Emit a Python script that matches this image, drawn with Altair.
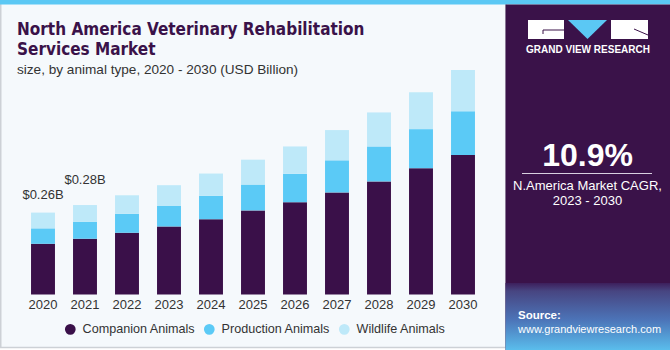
import altair as alt
import pandas as pd

years = ["2020", "2021", "2022", "2023", "2024", "2025", "2026", "2027", "2028", "2029", "2030"]
companion = [0.161, 0.177, 0.196, 0.216, 0.239, 0.267, 0.293, 0.324, 0.359, 0.401, 0.443]
production = [0.049, 0.054, 0.060, 0.065, 0.074, 0.082, 0.090, 0.102, 0.111, 0.124, 0.139]
wildlife = [0.050, 0.053, 0.059, 0.066, 0.071, 0.079, 0.087, 0.096, 0.108, 0.117, 0.131]
series = ["Companion Animals", "Production Animals", "Wildlife Animals"]
colors = ["#3A1049", "#5BCAF6", "#BEE9F9"]
label_years = ["2020", "2021"]
label_texts = ["$0.26B", "$0.28B"]

title_lines = ["North America Veterinary Rehabilitation", "Services Market"]
subtitle = "size, by animal type, 2020 - 2030 (USD Billion)"
cagr = "10.9%"
cagr_lines = ["N.America Market CAGR,", "2023 - 2030"]
brand = "GRAND VIEW RESEARCH"
source_lines = ["Source:", "www.grandviewresearch.com"]

rows = []
for i, y in enumerate(years):
    for k, (s, vals) in enumerate(zip(series, [companion, production, wildlife])):
        rows.append({"year": y, "series": s, "value": vals[i], "order": k})
df = pd.DataFrame(rows)

totals = {y: companion[i] + production[i] + wildlife[i] for i, y in enumerate(years)}
lab_df = pd.DataFrame({"year": label_years, "text": label_texts,
                       "total": [totals[y] for y in label_years]})
year_df = pd.DataFrame({"year": years})
one = pd.DataFrame({"a": [0]})

xs = alt.Scale(domain=years, range=[22, 484], paddingInner=0.43, paddingOuter=0.215)
ys = alt.Scale(domain=[0, 0.8], range=[294.5, 42.5], nice=False, zero=True)

FONT = "Liberation Sans"
PANEL = "#3A1249"

base_one = alt.Chart(one)

bg_left = base_one.mark_rect(fill="#F5F9FC", stroke="#CDD1D6", strokeWidth=1.5).encode(
    x=alt.value(0.75), x2=alt.value(506), y=alt.value(3), y2=alt.value(347.5))
top_stripe = base_one.mark_rect(fill="#5BC8F4").encode(
    x=alt.value(0), x2=alt.value(670), y=alt.value(0), y2=alt.value(4.5))
panel = base_one.mark_rect(fill=PANEL).encode(
    x=alt.value(505.5), x2=alt.value(670), y=alt.value(4.5), y2=alt.value(350))
panel_grad = base_one.mark_rect(fill={
    "gradient": "linear", "x1": 0, "y1": 0, "x2": 0, "y2": 1,
    "stops": [{"offset": 0, "color": "#3D1F5C"},
              {"offset": 0.12, "color": "#474581"},
              {"offset": 0.55, "color": "#4C74B8"},
              {"offset": 1, "color": "#5ABDEC"}]}).encode(
    x=alt.value(505.5), x2=alt.value(670), y=alt.value(283), y2=alt.value(350))

logo_l = base_one.mark_rect(fill="white").encode(
    x=alt.value(528), x2=alt.value(564), y=alt.value(20), y2=alt.value(39))
logo_r = base_one.mark_rect(fill="white").encode(
    x=alt.value(611), x2=alt.value(648), y=alt.value(20), y2=alt.value(39))
logo_g1 = base_one.mark_rule(color=PANEL, strokeWidth=1).encode(
    x=alt.value(543), x2=alt.value(564), y=alt.value(30))
logo_g2 = base_one.mark_rule(color=PANEL, strokeWidth=1).encode(
    x=alt.value(543), y=alt.value(30), y2=alt.value(34))
logo_r1 = base_one.mark_rule(color=PANEL, strokeWidth=1).encode(
    x=alt.value(634), x2=alt.value(648), y=alt.value(29), y2=alt.value(35))
logo_tri = base_one.mark_point(shape="M -1 -0.49 L 1 -0.49 L 0 0.49 Z", filled=True,
                               fill="#5BC8F4", opacity=1, size=1521, strokeWidth=0).encode(
    x=alt.value(587.5), y=alt.value(29.5))
brand_t = base_one.mark_text(text=brand, font=FONT, fontWeight="bold", fontSize=10,
                             color="white", align="center", baseline="middle").encode(
    x=alt.value(588), y=alt.value(50))

cagr_t = base_one.mark_text(text=cagr, font=FONT, fontWeight="bold", fontSize=32,
                            color="white", align="center", baseline="alphabetic").encode(
    x=alt.value(587.5), y=alt.value(166))
cagr_rule = base_one.mark_rule(color="#D8D0E0", strokeWidth=1).encode(
    x=alt.value(522), x2=alt.value(652), y=alt.value(173.5))
cagr_sub = base_one.mark_text(text=cagr_lines, font=FONT, fontSize=13, color="white",
                              align="center", baseline="middle", lineHeight=15).encode(
    x=alt.value(587.5), y=alt.value(186))
src1 = base_one.mark_text(text=source_lines[0], font=FONT, fontWeight="bold", fontSize=11.5,
                          color="white", align="left", baseline="middle").encode(
    x=alt.value(518), y=alt.value(316))
src2 = base_one.mark_text(text=source_lines[1], font=FONT, fontSize=11,
                          color="white", align="left", baseline="middle").encode(
    x=alt.value(518), y=alt.value(330))

title_t = base_one.mark_text(text=title_lines, font="DejaVu Sans Condensed, Liberation Sans Narrow, sans-serif",
                             fontWeight="bold", fontSize=17, color=PANEL, align="left",
                             baseline="alphabetic", lineHeight=20).encode(
    x=alt.value(17), y=alt.value(35))
sub_t = base_one.mark_text(text=subtitle, font=FONT, fontSize=13.6, color="#333333",
                           align="left", baseline="alphabetic").encode(
    x=alt.value(17), y=alt.value(74))

bars = alt.Chart(df).mark_bar().encode(
    x=alt.X("year:N", scale=xs, axis=None),
    y=alt.Y("value:Q", stack="zero", scale=ys, axis=None),
    color=alt.Color("series:N", scale=alt.Scale(domain=series, range=colors),
                    legend=alt.Legend(orient="none", legendX=64, legendY=323,
                                      direction="horizontal", title=None,
                                      symbolType="circle", symbolSize=115,
                                      symbolStrokeWidth=0, labelFont=FONT,
                                      labelFontSize=12.6, labelColor="#333333",
                                      columnPadding=7, labelOffset=6)),
    order=alt.Order("order:Q", sort="ascending"),
)

year_t = alt.Chart(year_df).mark_text(font=FONT, fontSize=13, color="#333333",
                                      baseline="middle").encode(
    x=alt.X("year:N", scale=xs, axis=None), y=alt.value(304.5), text="year:N")

lab1 = alt.Chart(lab_df).transform_filter(alt.datum.year == label_years[0]).mark_text(
    font=FONT, fontSize=13, color="#333333", baseline="middle", dy=-17.5).encode(
    x=alt.X("year:N", scale=xs, axis=None), y=alt.Y("total:Q", scale=ys, axis=None),
    text="text:N")
lab2 = alt.Chart(lab_df).transform_filter(alt.datum.year == label_years[1]).mark_text(
    font=FONT, fontSize=13, color="#333333", baseline="middle", dy=-25.5).encode(
    x=alt.X("year:N", scale=xs, axis=None), y=alt.Y("total:Q", scale=ys, axis=None),
    text="text:N")

chart = alt.layer(
    bg_left, top_stripe, panel, panel_grad, logo_l, logo_r, logo_g1, logo_g2, logo_r1,
    logo_tri, brand_t, cagr_t, cagr_rule, cagr_sub, src1, src2, title_t, sub_t,
    bars, year_t, lab1, lab2,
).properties(width=670, height=350, padding=0, autosize=alt.AutoSizeParams(type="none"),
             background="white").configure_view(stroke=None)

chart.save("out.html", embed_options={"renderer": "svg", "actions": False})
